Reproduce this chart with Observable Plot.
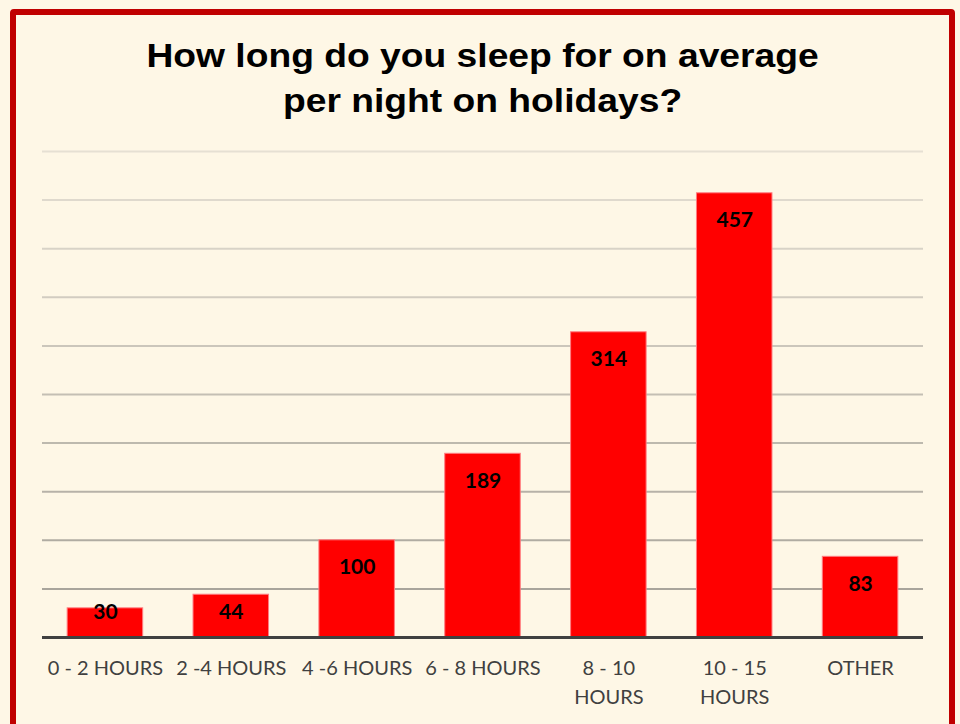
<!DOCTYPE html>
<html>
<head>
<meta charset="utf-8">
<script src="https://cdn.jsdelivr.net/npm/d3@7"></script>
<script src="https://cdn.jsdelivr.net/npm/@observablehq/plot@0.6"></script>
<style>
  html, body { margin: 0; padding: 0; background: #FEF7E6; }
  #wrap { position: relative; width: 960px; height: 724px; overflow: hidden; background: #FEF7E6; }
  #frame { position: absolute; left: 10px; top: 9px; width: 933px; height: 740px; border: 6px solid #C00000; border-radius: 4px; box-sizing: content-box; }
  #title { position: absolute; left: 0; top: 33px; width: 965px; text-align: center; font-family: "Liberation Sans", Arial, sans-serif; font-weight: bold; font-size: 34px; line-height: 45px; color: #000; transform: scaleX(1.095); transform-origin: 482px 0; }
  #chart { position: absolute; left: 0; top: 0; }
</style>
</head>
<body>
<div id="wrap">
  <div id="frame"></div>
  <div id="title">How long do you sleep for on average<br>per night on holidays?</div>
  <div id="chart"></div>
</div>
<script>
const categories = ["0 - 2 HOURS", "2 -4 HOURS", "4 -6 HOURS", "6 - 8 HOURS", "8 - 10 HOURS", "10 - 15 HOURS", "OTHER"];
const tickLabels = ["0 - 2 HOURS", "2 -4 HOURS", "4 -6 HOURS", "6 - 8 HOURS", "8 - 10\nHOURS", "10 - 15\nHOURS", "OTHER"];
const values = [30, 44, 100, 189, 314, 457, 83];
const gridTicks = [50, 100, 150, 200, 250, 300, 350, 400, 450, 500];

const data = categories.map((c, i) => ({category: c, value: values[i]}));
const labelOf = new Map(categories.map((c, i) => [c, tickLabels[i]]));
const gridColor = d3.scaleLinear().domain([50, 500]).range(["#a9a59c", "#e6e0d3"]);

const chart = Plot.plot({
  width: 960,
  height: 724,
  marginLeft: 42,
  marginRight: 37,
  marginTop: 151,
  marginBottom: 87,
  style: {background: "transparent", fontFamily: "Lato, 'Open Sans', sans-serif"},
  x: {domain: categories, paddingInner: 0.4, paddingOuter: 0.2, round: false, label: null},
  y: {domain: [0, 500], axis: null},
  marks: [
    Plot.ruleY(gridTicks, {stroke: d => gridColor(d), strokeWidth: 2}),
    Plot.barY(data, {x: "category", y: "value", fill: "#FF0000", stroke: "#FF7C80", strokeWidth: 1}),
    Plot.ruleY([0], {stroke: "#404040", strokeWidth: 3}),
    Plot.axisX({tickSize: 0, tickPadding: 17, tickFormat: d => labelOf.get(d), fontSize: 20, lineHeight: 1.45, fill: "#404040", label: null}),
    Plot.text(data, {x: "category", y: d => Math.max(d.value - 28, 26), text: d => String(d.value), fontWeight: "bold", fontSize: 21, fill: "#000"})
  ]
});
document.getElementById("chart").appendChild(chart);
</script>
</body>
</html>
